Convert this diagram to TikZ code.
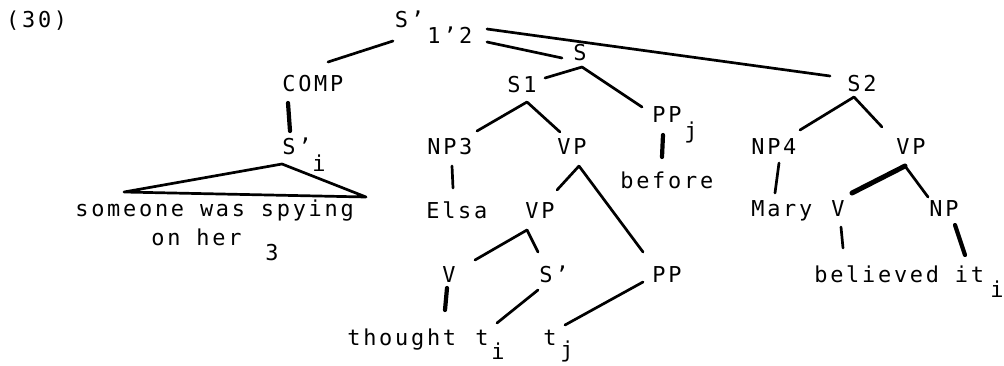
\documentclass[tikz,border=0pt]{standalone}
\usepackage{fontspec}
\newfontfamily\tw[LetterSpace=12.5]{DejaVu Sans Mono}
\begin{document}
\begin{tikzpicture}[x=1pt,y=-1pt,
  lab/.style={anchor=base west,inner sep=0pt,outer sep=0pt,font=\tw\fontsize{21.9}{22}\selectfont},
  br/.style={line width=2.7pt,line cap=round},
  thk/.style={line width=4.2pt,line cap=round}]
\useasboundingbox (0,0) rectangle (1004,365);
% labels
\node[lab] (n30) at (6.2,27) {(30)};
\node[lab] (root) at (394.9,27) {S’};
\node[lab] (rootsub) at (427.4,43) {1’2};
\node[lab] (comp) at (282.4,91) {COMP};
\node[lab] (sbar) at (282.4,154) {S’};
\node[lab] (sbarsub) at (312.4,171) {i};
\node[lab] (some) at (75.4,216) {someone was spying};
\node[lab] (onher) at (151.4,245) {on her};
\node[lab] (onhersub) at (265.4,260) {3};
\node[lab] (s) at (573.4,60) {S};
\node[lab] (s1) at (507.4,92) {S1};
\node[lab] (np3) at (427.4,154) {NP3};
\node[lab] (vp1) at (557.4,154) {VP};
\node[lab] (ppj) at (652.4,122) {PP};
\node[lab] (ppjsub) at (684.4,138) {j};
\node[lab] (before) at (620.4,188) {before};
\node[lab] (elsa) at (426.4,218) {Elsa};
\node[lab] (vp2) at (525.4,218) {VP};
\node[lab] (v1) at (442.4,282) {V};
\node[lab] (sbar2) at (539.4,282) {S’};
\node[lab] (pp2) at (652.4,282) {PP};
\node[lab] (thought) at (347.4,345) {thought};
\node[lab] (ti) at (475.4,345) {t};
\node[lab] (tisub) at (491.4,359) {i};
\node[lab] (tj) at (543.4,345) {t};
\node[lab] (tjsub) at (560.4,357) {j};
\node[lab] (s2) at (847.4,91) {S2};
\node[lab] (np4) at (751.4,154) {NP4};
\node[lab] (vp3) at (896.4,154) {VP};
\node[lab] (mary) at (751.4,216) {Mary};
\node[lab] (v2) at (831.4,216) {V};
\node[lab] (np5) at (929.4,216) {NP};
\node[lab] (believed) at (814.4,282) {believed it};
\node[lab] (itsub) at (990.4,297) {i};
% connector end points
\coordinate (rootL) at (393,41);
\coordinate (compT) at (328,62);
\coordinate (rootR) at (487,42);
\coordinate (sT) at (562,58);
\coordinate (rootRR) at (487,29);
\coordinate (s2T) at (830,76);
\coordinate (compB) at (288,103);
\coordinate (sbarT) at (290,131);
\coordinate (triA) at (282,164);
\coordinate (triL) at (124,192);
\coordinate (triR) at (366,197);
\coordinate (sB) at (582,67);
\coordinate (s1T) at (545,78);
\coordinate (ppjT) at (642,107);
\coordinate (s1B) at (527,102);
\coordinate (np3T) at (477,131);
\coordinate (vp1T) at (560,132);
\coordinate (ppjB) at (663,135);
\coordinate (beforeT) at (662,157);
\coordinate (np3B) at (452,166);
\coordinate (elsaT) at (453,188);
\coordinate (vp1B) at (579,166);
\coordinate (vp2T) at (557,190);
\coordinate (pp2T) at (643,252);
\coordinate (vp2B) at (527,230);
\coordinate (v1T) at (475,260);
\coordinate (sbar2T) at (538,252);
\coordinate (v1B) at (447,288);
\coordinate (thoughtT) at (445,310);
\coordinate (sbar2B) at (538,290);
\coordinate (tiT) at (497,323);
\coordinate (pp2B) at (643,282);
\coordinate (tjT) at (565,325);
\coordinate (s2B) at (854,97);
\coordinate (np4T) at (800,130);
\coordinate (vp3T) at (882,127);
\coordinate (np4B) at (779,163);
\coordinate (maryT) at (775,193);
\coordinate (vp3B) at (905,166);
\coordinate (v2T) at (852,193);
\coordinate (np5T) at (928,197);
\coordinate (v2B) at (841,227);
\coordinate (believedT) at (843,248);
\coordinate (np5B) at (955,225);
\coordinate (itT) at (965,255);
% branches
\draw[br] (rootL) -- (compT);
\draw[br] (rootR) -- (sT);
\draw[br] (rootRR) -- (s2T);
\draw[thk] (compB) -- (sbarT);
\draw[br,line join=round] (triL) -- (triA) -- (triR) -- cycle;
\draw[br] (sB) -- (s1T);
\draw[br] (sB) -- (ppjT);
\draw[br] (s1B) -- (np3T);
\draw[br] (s1B) -- (vp1T);
\draw[thk] (ppjB) -- (beforeT);
\draw[br] (np3B) -- (elsaT);
\draw[br] (vp1B) -- (vp2T);
\draw[br] (vp1B) -- (pp2T);
\draw[br] (vp2B) -- (v1T);
\draw[br] (vp2B) -- (sbar2T);
\draw[thk] (v1B) -- (thoughtT);
\draw[br] (sbar2B) -- (tiT);
\draw[br] (pp2B) -- (tjT);
\draw[br] (s2B) -- (np4T);
\draw[br] (s2B) -- (vp3T);
\draw[br] (np4B) -- (maryT);
\draw[line width=5pt,line cap=round] (vp3B) -- (v2T);
\draw[br] (vp3B) -- (np5T);
\draw[br] (v2B) -- (believedT);
\draw[thk] (np5B) -- (itT);
\end{tikzpicture}
\end{document}
